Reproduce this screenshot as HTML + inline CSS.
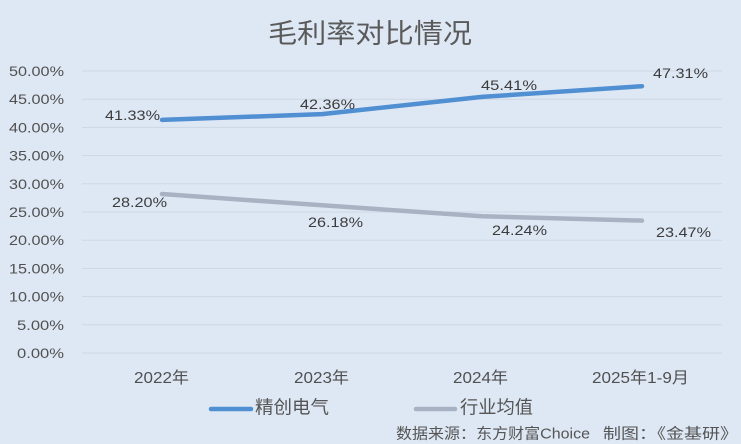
<!DOCTYPE html>
<html><head><meta charset="utf-8"><style>
html,body{margin:0;padding:0;background:#dee8f4;}
svg{display:block;}
text{font-family:"Liberation Sans","Noto Sans CJK SC",sans-serif;}
</style></head><body>
<svg width="741" height="444" viewBox="0 0 741 444" xmlns="http://www.w3.org/2000/svg">
<rect width="741" height="444" fill="#dee8f4"/>
<text x="370" y="43" font-size="27" fill="#5a5a5a" text-anchor="middle" textLength="204" lengthAdjust="spacingAndGlyphs">毛利率对比情况</text>
<g stroke="#cdd7e3" stroke-width="1">
<line x1="82" x2="722" y1="71" y2="71"/>
<line x1="82" x2="722" y1="99.2" y2="99.2"/>
<line x1="82" x2="722" y1="127.4" y2="127.4"/>
<line x1="82" x2="722" y1="155.6" y2="155.6"/>
<line x1="82" x2="722" y1="183.8" y2="183.8"/>
<line x1="82" x2="722" y1="212" y2="212"/>
<line x1="82" x2="722" y1="240.2" y2="240.2"/>
<line x1="82" x2="722" y1="268.4" y2="268.4"/>
<line x1="82" x2="722" y1="296.6" y2="296.6"/>
<line x1="82" x2="722" y1="324.8" y2="324.8"/>
<line x1="82" x2="722" y1="353" y2="353"/>
</g>
<g font-size="14" fill="#505050" text-anchor="end">
<text x="64" y="76" textLength="55" lengthAdjust="spacingAndGlyphs">50.00%</text>
<text x="64" y="104.2" textLength="55" lengthAdjust="spacingAndGlyphs">45.00%</text>
<text x="64" y="132.4" textLength="55" lengthAdjust="spacingAndGlyphs">40.00%</text>
<text x="64" y="160.6" textLength="55" lengthAdjust="spacingAndGlyphs">35.00%</text>
<text x="64" y="188.8" textLength="55" lengthAdjust="spacingAndGlyphs">30.00%</text>
<text x="64" y="217" textLength="55" lengthAdjust="spacingAndGlyphs">25.00%</text>
<text x="64" y="245.2" textLength="55" lengthAdjust="spacingAndGlyphs">20.00%</text>
<text x="64" y="273.4" textLength="55" lengthAdjust="spacingAndGlyphs">15.00%</text>
<text x="64" y="301.6" textLength="55" lengthAdjust="spacingAndGlyphs">10.00%</text>
<text x="64" y="329.8" textLength="47" lengthAdjust="spacingAndGlyphs">5.00%</text>
<text x="64" y="358" textLength="47" lengthAdjust="spacingAndGlyphs">0.00%</text>
</g>
<polyline points="162,194 322,205.3 482,216.3 642,220.6" fill="none" stroke="#a9b2c2" stroke-width="4.5" stroke-linecap="round" stroke-linejoin="round"/>
<polyline points="162,119.9 322,114.1 482,96.9 642,86.2" fill="none" stroke="#4f8fd2" stroke-width="4.5" stroke-linecap="round" stroke-linejoin="round"/>
<g font-size="14" fill="#3c3c3c" text-anchor="middle">
<text x="132.5" y="120" textLength="55" lengthAdjust="spacingAndGlyphs">41.33%</text>
<text x="327.5" y="109" textLength="55" lengthAdjust="spacingAndGlyphs">42.36%</text>
<text x="509" y="90" textLength="56" lengthAdjust="spacingAndGlyphs">45.41%</text>
<text x="680.5" y="78" textLength="55" lengthAdjust="spacingAndGlyphs">47.31%</text>
<text x="139.5" y="207" textLength="55" lengthAdjust="spacingAndGlyphs">28.20%</text>
<text x="335.5" y="227" textLength="55" lengthAdjust="spacingAndGlyphs">26.18%</text>
<text x="519.5" y="235" textLength="55" lengthAdjust="spacingAndGlyphs">24.24%</text>
<text x="683.5" y="237" textLength="55" lengthAdjust="spacingAndGlyphs">23.47%</text>
</g>
<g font-size="16" fill="#505050" text-anchor="middle">
<text x="161.5" y="383" textLength="55" lengthAdjust="spacingAndGlyphs">2022年</text>
<text x="321.5" y="383" textLength="55" lengthAdjust="spacingAndGlyphs">2023年</text>
<text x="480.5" y="383" textLength="55" lengthAdjust="spacingAndGlyphs">2024年</text>
<text x="640.5" y="383" textLength="97" lengthAdjust="spacingAndGlyphs">2025年1-9月</text>
</g>
<line x1="211" x2="251" y1="409" y2="409" stroke="#4f8fd2" stroke-width="4.5" stroke-linecap="round"/>
<text x="255" y="413.5" font-size="18" fill="#555" textLength="74" lengthAdjust="spacingAndGlyphs">精创电气</text>
<line x1="416" x2="455" y1="409" y2="409" stroke="#a9b2c2" stroke-width="4.5" stroke-linecap="round"/>
<text x="460" y="413.5" font-size="18" fill="#555" textLength="73" lengthAdjust="spacingAndGlyphs">行业均值</text>
<text x="396" y="438.5" font-size="15" fill="#555" textLength="194" lengthAdjust="spacingAndGlyphs">数据来源：东方财富Choice</text>
<text x="603" y="438.5" font-size="15" fill="#555" textLength="135" lengthAdjust="spacingAndGlyphs">制图：《金基研》</text>
</svg>
</body></html>
